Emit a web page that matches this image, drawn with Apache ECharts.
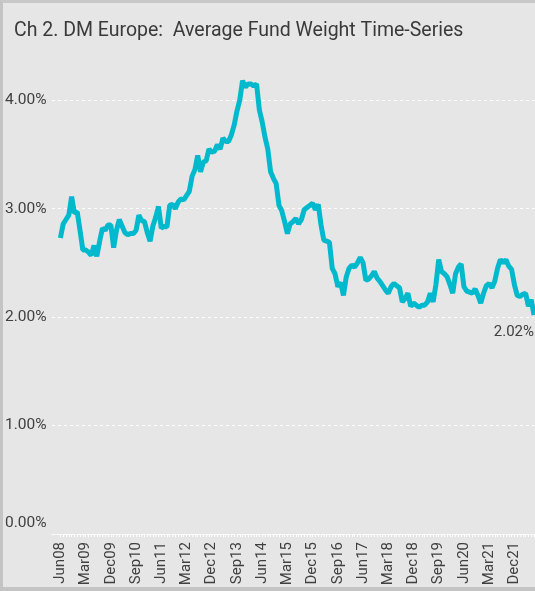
<!DOCTYPE html>
<html>
<head>
<meta charset="utf-8">
<script src="https://cdn.jsdelivr.net/npm/echarts@6/dist/echarts.min.js"></script>
<style>
  html, body { margin: 0; padding: 0; background: #e6e6e6; }
  #main { position: absolute; left: 0; top: 0; width: 535px; height: 591px; }
  #frame {
    position: absolute; left: 0; top: 0; width: 535px; height: 591px;
    box-sizing: border-box; pointer-events: none;
    border-left: 3px solid #c4c4c4; border-top: 3px solid #c8c8c8; border-bottom: 4px solid #c4c4c4;
  }
</style>
</head>
<body>
<div id="main"></div>
<div id="frame"></div>
<script>
// x tick labels, one every 9 months starting Jun08
var tickLabels = ['Jun08', 'Mar09', 'Dec09', 'Sep10', 'Jun11', 'Mar12', 'Dec12', 'Sep13', 'Jun14', 'Mar15',
    'Dec15', 'Sep16', 'Jun17', 'Mar18', 'Dec18', 'Sep19', 'Jun20', 'Mar21', 'Dec21'];
var yTicks = [0, 1, 2, 3, 4];

// monthly average fund weight (%), Jun08 onwards
var weights = [
    2.73, 2.86, 2.90, 2.94, 3.11, 2.96, 2.97, 2.80, 2.62, 2.62,
    2.60, 2.57, 2.66, 2.56, 2.70, 2.82, 2.80, 2.85, 2.85, 2.64,
    2.80, 2.90, 2.84, 2.78, 2.76, 2.77, 2.77, 2.80, 2.94, 2.89,
    2.88, 2.78, 2.70, 2.84, 2.92, 3.02, 2.82, 2.84, 2.83, 3.03,
    3.04, 3.00, 3.06, 3.09, 3.08, 3.12, 3.16, 3.30, 3.36, 3.49,
    3.34, 3.43, 3.44, 3.55, 3.52, 3.53, 3.59, 3.55, 3.65, 3.62,
    3.62, 3.68, 3.77, 3.90, 4.00, 4.18, 4.12, 4.15, 4.15, 4.13,
    4.15, 3.91, 3.80, 3.66, 3.55, 3.34, 3.28, 3.23, 3.03, 2.98,
    2.88, 2.77, 2.86, 2.88, 2.91, 2.86, 2.90, 2.99, 3.01, 3.03,
    3.05, 2.99, 3.04, 2.85, 2.71, 2.70, 2.69, 2.45, 2.40, 2.28,
    2.32, 2.20, 2.37, 2.45, 2.48, 2.46, 2.50, 2.55, 2.50, 2.34,
    2.35, 2.38, 2.42, 2.36, 2.33, 2.29, 2.25, 2.22, 2.28, 2.31,
    2.29, 2.27, 2.14, 2.17, 2.22, 2.10, 2.13, 2.11, 2.09, 2.11,
    2.11, 2.14, 2.22, 2.14, 2.30, 2.53, 2.42, 2.40, 2.37, 2.30,
    2.22, 2.40, 2.46, 2.49, 2.28, 2.24, 2.23, 2.22, 2.26, 2.20,
    2.13, 2.22, 2.29, 2.31, 2.27, 2.33, 2.45, 2.53, 2.50, 2.53,
    2.47, 2.44, 2.30, 2.20, 2.19, 2.21, 2.22, 2.10, 2.16, 2.02
];

var labelIdx = [];
for (var i = 0; i < tickLabels.length; i++) labelIdx.push(i * 9);
var monthIdx = [];
for (var i = 0; i < weights.length; i++) monthIdx.push(i);

var seriesData = weights.map(function (v, i) {
    var item = { value: [i, v] };
    if (i === weights.length - 1) {
        item.label = {
            show: true,
            position: 'bottom',
            align: 'right',
            distance: 10,
            formatter: function (p) { return p.value[1].toFixed(2) + '%'; },
            color: '#404040',
            fontSize: 15,
            fontFamily: 'Roboto'
        };
    }
    return item;
});

var myChart = echarts.init(document.getElementById('main'), null, { renderer: 'canvas' });

var option = {
    backgroundColor: 'transparent',
    animation: false,
    title: {
        text: 'Ch 2. DM Europe:  Average Fund Weight Time-Series',
        left: 9,
        top: 16,
        textStyle: {
            color: '#3a3a3a',
            fontSize: 19.5,
            fontWeight: 'normal',
            fontFamily: 'Roboto'
        }
    },
    grid: {
        left: 52,
        right: 1,
        top: 46,
        bottom: 57
    },
    xAxis: {
        type: 'value',
        min: -3,
        max: weights.length - 1,
        axisLine: {
            show: true,
            lineStyle: { color: '#ffffff', width: 1, type: [3, 2] }
        },
        axisTick: {
            show: true,
            length: 3,
            customValues: monthIdx,
            lineStyle: { color: '#ffffff', width: 1 }
        },
        axisLabel: {
            customValues: labelIdx,
            rotate: 90,
            margin: 8,
            color: '#404040',
            fontSize: 15,
            fontFamily: 'Roboto',
            formatter: function (v) { return tickLabels[Math.round(v / 9)]; }
        },
        splitLine: { show: false }
    },
    yAxis: {
        type: 'value',
        min: 0,
        max: 4.5,
        interval: 1,
        axisLine: { show: false },
        axisTick: { show: false },
        axisLabel: {
            customValues: yTicks,
            align: 'left',
            margin: 47,
            color: '#404040',
            fontSize: 15.5,
            fontFamily: 'Roboto',
            formatter: function (v) {
                var s = v.toFixed(2) + '%';
                return v === 0 ? '{low|' + s + '}' : s;
            },
            rich: {
                low: {
                    color: '#404040',
                    fontSize: 15.5,
                    fontFamily: 'Roboto',
                    padding: [0, 0, 22, 0]
                }
            }
        },
        splitLine: {
            show: true,
            showMaxLine: false,
            lineStyle: { color: '#ffffff', width: 1, type: [3, 3] }
        }
    },
    series: [
        {
            type: 'line',
            data: seriesData,
            symbol: 'circle',
            symbolSize: 0,
            showSymbol: true,
            showAllSymbol: true,
            clip: false,
            lineStyle: { color: '#00b9cd', width: 5 },
            itemStyle: { color: '#00b9cd' }
        }
    ]
};

myChart.setOption(option);
</script>
</body>
</html>
